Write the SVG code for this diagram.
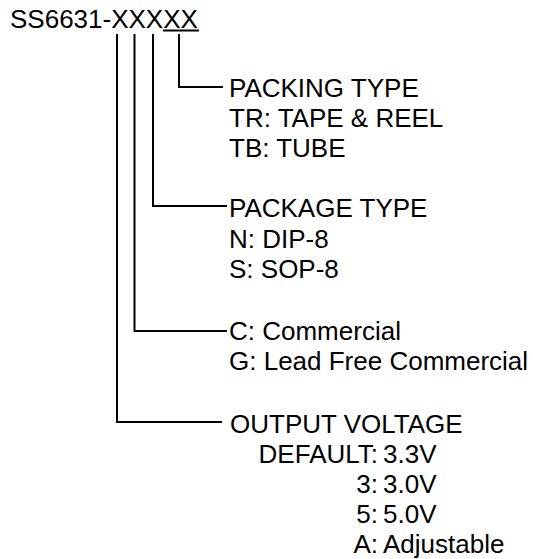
<svg xmlns="http://www.w3.org/2000/svg" width="533" height="559" viewBox="0 0 533 559">
<style>
text{font-family:"Liberation Sans",Arial,sans-serif;font-size:26px;fill:#000}
.c{fill:none;stroke:#000;stroke-width:2}
.r{text-anchor:end}
</style>
<rect width="533" height="559" fill="#fff"/>
<g id="title">
<text x="10" y="28">SS6631-XXXXX</text>
<line class="c" x1="163" y1="30.5" x2="199" y2="30.5"/>
</g>
<g id="connectors">
<polyline class="c" points="179,34 179,87 223,87"/>
<polyline class="c" points="153,34 153,206 227,206"/>
<polyline class="c" points="134.5,34 134.5,331 227,331"/>
<polyline class="c" points="117,34 117,422 222,422"/>
</g>
<g id="packing">
<text x="229" y="97">PACKING TYPE</text>
<text x="229" y="127">TR: TAPE &amp; REEL</text>
<text x="229" y="157">TB: TUBE</text>
</g>
<g id="package">
<text x="229" y="217">PACKAGE TYPE</text>
<text x="229" y="248">N: DIP-8</text>
<text x="229" y="278">S: SOP-8</text>
</g>
<g id="grade">
<text x="229" y="340">C: Commercial</text>
<text x="229" y="370">G: Lead Free Commercial</text>
</g>
<g id="voltage">
<text x="230" y="433">OUTPUT VOLTAGE</text>
<text class="r" x="378" y="463">DEFAULT:</text>
<text x="383" y="463">3.3V</text>
<text class="r" x="378" y="493">3:</text>
<text x="383" y="493">3.0V</text>
<text class="r" x="378" y="523">5:</text>
<text x="383" y="523">5.0V</text>
<text class="r" x="378" y="553">A:</text>
<text x="383" y="553">Adjustable</text>
</g>
</svg>
